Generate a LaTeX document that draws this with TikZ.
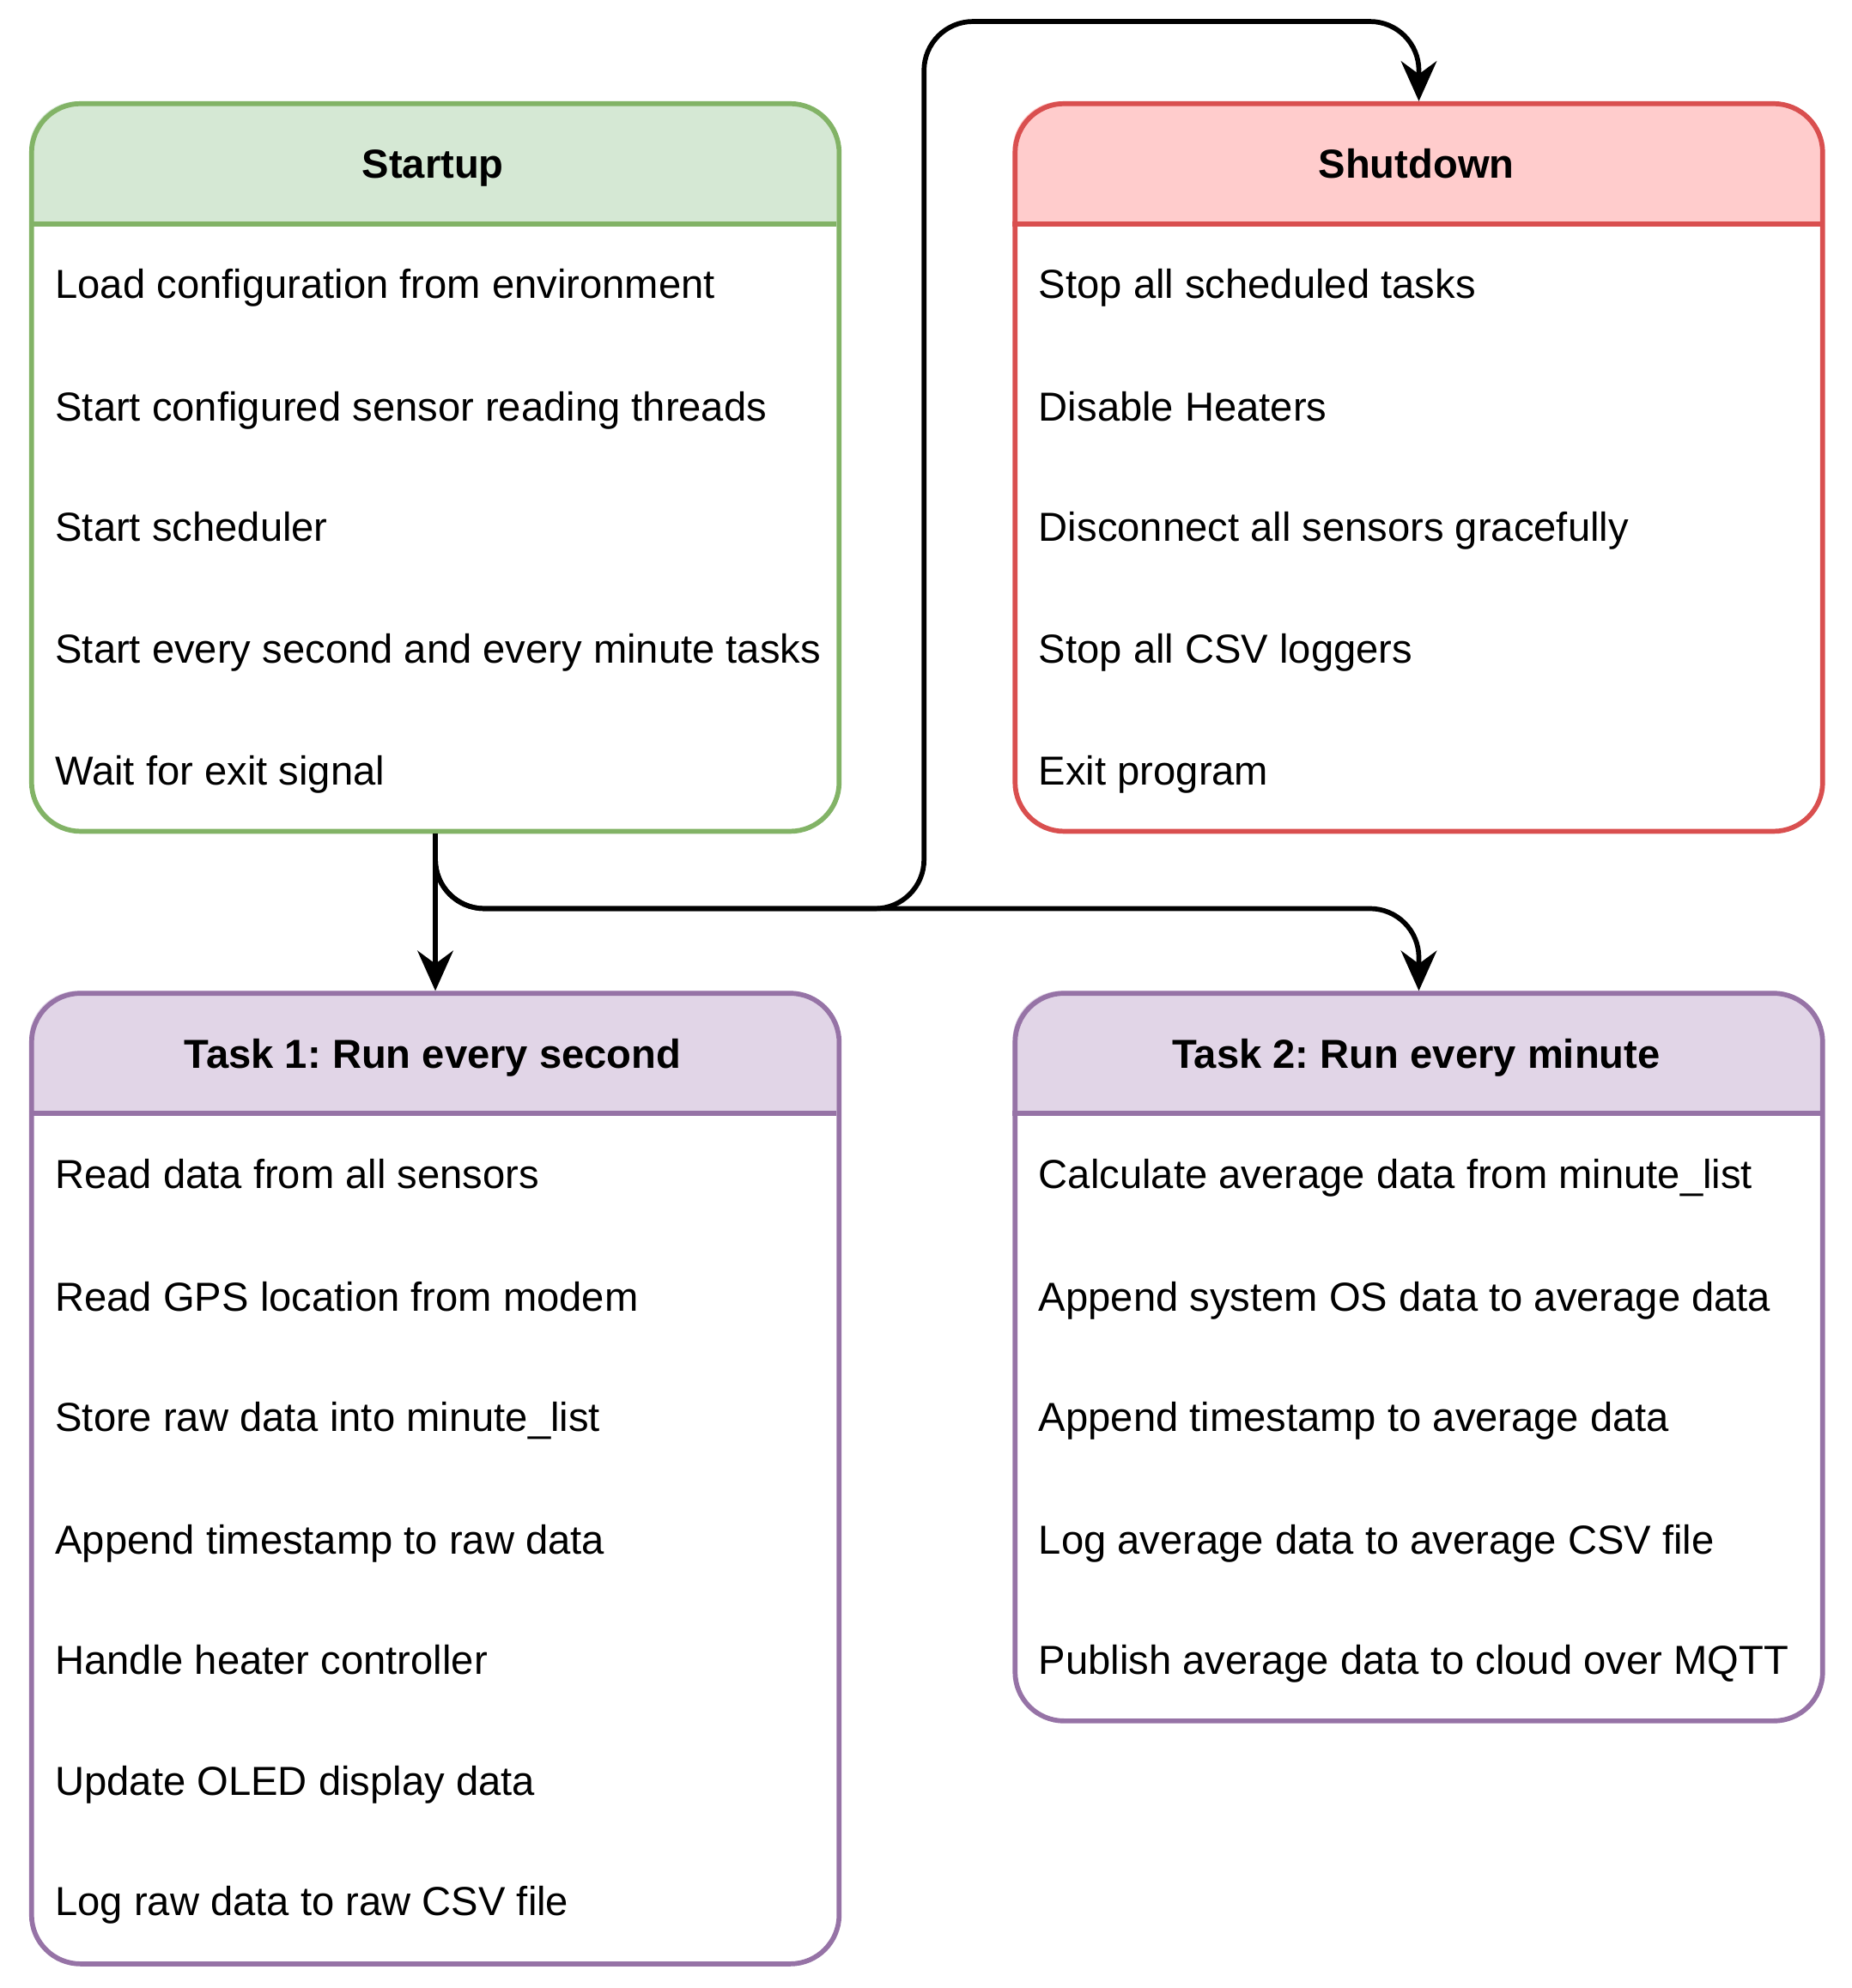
\documentclass[tikz,border=0pt]{standalone}
\usepackage{fontspec}
\setmainfont{Liberation Sans}
\usetikzlibrary{arrows.meta}
\frenchspacing
\definecolor{gF}{HTML}{D5E8D4}\definecolor{gD}{HTML}{82B366}
\definecolor{rF}{HTML}{FFCCCC}\definecolor{rD}{HTML}{D94F4F}
\definecolor{pF}{HTML}{E1D5E7}\definecolor{pD}{HTML}{9673A6}
\tikzset{
 box/.style={draw=#1,line width=1.1pt,rounded corners=11pt,inner sep=0pt,anchor=north west},
 item/.style={anchor=base west,inner sep=0pt,font=\fontsize{9.1}{11}\selectfont},
 head/.style={anchor=base,inner sep=0pt,font=\fontsize{9.1}{11}\selectfont\bfseries},
 conn/.style={line width=1.1pt,rounded corners=11pt,-{Stealth[length=9pt,width=8pt]}}
}
\newcommand{\mybox}[8]{% name x y w h headerh fill draw
 \begin{scope}
 \clip[rounded corners=11pt] (#2,#3) rectangle ++(#4,#5);
 \fill[#7] (#2,#3) rectangle ++(#4,#6);
 \end{scope}
 \draw[#8,line width=1.1pt] (#2,#3+#6) -- ++(#4,0);
 \node[box=#8,minimum width=#4*0.01cm,minimum height=#5*0.01cm] (#1) at (#2,#3) {};
}
\begin{document}
\begin{tikzpicture}[x=0.01cm,y=-0.01cm]
\useasboundingbox (0,0) rectangle (1463,1571);
\mybox{st}{23}{80}{638}{575}{97}{gF}{gD}
\mybox{sd}{800}{80}{638}{575}{97}{rF}{rD}
\mybox{ta}{23}{783}{638}{767}{97}{pF}{pD}
\mybox{tb}{800}{783}{638}{575}{97}{pF}{pD}
\node[head] (sth) at (342,141) {Startup};
\node[head] (sdh) at (1119,141) {Shutdown};
\node[head] (tah) at (342,844) {Task 1: Run every second};
\node[head] (tbh) at (1119,844) {Task 2: Run every minute};
\node[item] (s1) at (43,236) {Load configuration from environment};
\node[item] (s2) at (43,333) {Start configured sensor reading threads};
\node[item] (s3) at (43,428) {Start scheduler};
\node[item] (s4) at (43,524) {Start every second and every minute tasks};
\node[item] (s5) at (43,620) {Wait for exit signal};
\node[item] (d1) at (820,236) {Stop all scheduled tasks};
\node[item] (d2) at (820,333) {Disable Heaters};
\node[item] (d3) at (820,428) {Disconnect all sensors gracefully};
\node[item] (d4) at (820,524) {Stop all CSV loggers};
\node[item] (d5) at (820,620) {Exit program};
\node[item] (a1) at (43,939) {Read data from all sensors};
\node[item] (a2) at (43,1036) {Read GPS location from modem};
\node[item] (a3) at (43,1131) {Store raw data into minute\_list};
\node[item] (a4) at (43,1228) {Append timestamp to raw data};
\node[item] (a5) at (43,1323) {Handle heater controller};
\node[item] (a6) at (43,1419) {Update OLED display data};
\node[item] (a7) at (43,1514) {Log raw data to raw CSV file};
\node[item] (b1) at (820,939) {Calculate average data from minute\_list};
\node[item] (b2) at (820,1036) {Append system OS data to average data};
\node[item] (b3) at (820,1131) {Append timestamp to average data};
\node[item] (b4) at (820,1228) {Log average data to average CSV file};
\node[item] (b5) at (820,1323) {Publish average data to cloud over MQTT};
\coordinate (j) at (730,718);
\coordinate (top) at (900,17);
\draw[conn] (st.south) -- (ta.north);
\draw[conn] (st.south) |- (j) -| (tb.north);
\draw[conn] (st.south) |- (j) |- (top) -| (sd.north);
\end{tikzpicture}
\end{document}
